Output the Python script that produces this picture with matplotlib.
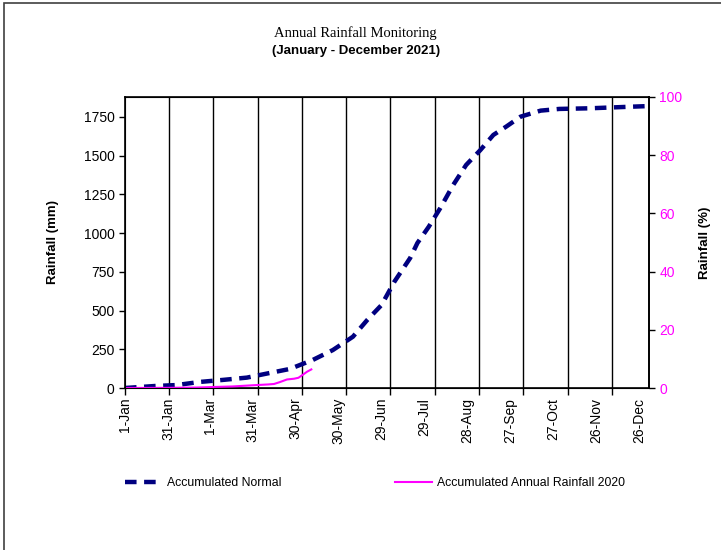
import matplotlib
matplotlib.use("Agg")
import matplotlib.pyplot as plt
from matplotlib.patches import Rectangle

# ---- data ----
label_days = [0, 30, 59, 89, 119, 149, 179, 209, 239, 269, 299, 329, 359]
tick_labels = ["1-Jan", "31-Jan", "1-Mar", "31-Mar", "30-Apr", "30-May", "29-Jun",
               "29-Jul", "28-Aug", "27-Sep", "27-Oct", "26-Nov", "26-Dec"]
# positions of the vertical gridlines / tick marks (in day units)
grid_days = [0, 30.7, 61.4, 92.8, 123.5, 154.2, 184.9, 216.3, 247.0, 277.7, 309.1, 339.8]

normal_days = [0, 21, 36, 52, 68, 85, 101, 115, 131, 145, 159, 169, 179, 188, 199,
               204, 212, 220, 229, 238, 248, 257, 266, 276, 290, 303, 324, 355, 364]
normal_mm = [0, 13, 19, 39, 52, 67, 97, 123, 181, 245, 331, 439, 536, 687, 840,
             936, 1042, 1162, 1311, 1440, 1537, 1634, 1688, 1752, 1791, 1802, 1806, 1817, 1820]

actual_days = [0, 30, 50, 60, 75, 90, 100, 104, 108, 113, 118, 121, 124, 127, 130]
actual_mm = [0, 1, 3, 6, 10, 18, 23, 26, 38, 55, 60, 66, 85, 105, 120]

left_ticks = [0, 250, 500, 750, 1000, 1250, 1500, 1750]
right_ticks = [0, 20, 40, 60, 80, 100]

NAVY = "#000080"
MAGENTA = "#FF00FF"
SANS = ["Liberation Sans", "DejaVu Sans"]

W, H = 721, 550
fig = plt.figure(figsize=(W / 100, H / 100), dpi=100)
fig.patch.set_facecolor("white")

# outer border
fig.patches.append(Rectangle((4 / W, -0.05), (W + 10) / W, 1.05 - 3 / H,
                             transform=fig.transFigure, fill=False,
                             edgecolor="#404040", lw=1.2, zorder=0))

ax = fig.add_axes([125 / W, (H - 388) / H, (649 - 125) / W, (388 - 97) / H])
ax.set_xlim(0, 365.6)
ax.set_ylim(0, 1879)
ax.xaxis.remove_overlapping_locs = False

# tick marks + gridlines (major, unlabeled)
ax.set_xticks(grid_days)
ax.set_xticklabels([])
ax.tick_params(axis="x", which="major", direction="out", length=5, width=1)
# labels (minor, no tick marks)
ax.set_xticks(label_days, minor=True)
ax.set_xticklabels(tick_labels, minor=True, rotation=90, fontsize=10, family=SANS)
ax.tick_params(axis="x", which="minor", length=0, pad=7)
for x in grid_days[1:]:
    ax.axvline(x, color="black", lw=1, zorder=1)

ax.set_yticks(left_ticks)
ax.set_yticklabels([str(v) for v in left_ticks], fontsize=10, family=SANS)
ax.tick_params(axis="y", direction="out", length=4, width=1, colors="black")
for s in ax.spines.values():
    s.set_linewidth(1.2)
    s.set_color("black")

ln1, = ax.plot(normal_days, normal_mm, color=NAVY, lw=3.2, dashes=(2.6, 1.7),
               zorder=3, label="Accumulated Normal")
ln2, = ax.plot(actual_days, actual_mm, color=MAGENTA, lw=1.5, zorder=4,
               label="Accumulated Annual Rainfall 2020")

ax.set_ylabel("Rainfall (mm)", fontsize=9.5, fontweight="bold", family=SANS,
              labelpad=18)

ax2 = ax.twinx()
ax2.set_ylim(0, 100)
ax2.set_yticks(right_ticks)
ax2.set_yticklabels([str(v) for v in right_ticks], fontsize=10, color=MAGENTA, family=SANS)
ax2.tick_params(axis="y", direction="out", length=4, width=1, colors="black",
                labelcolor=MAGENTA)
ax2.spines["right"].set_linewidth(1.2)
ax2.set_ylabel("Rainfall (%)", fontsize=9.5, fontweight="bold", family=SANS,
               labelpad=12)

fig.text(355 / W, 1 - 33 / H, "Annual Rainfall Monitoring", ha="center", va="center",
         fontsize=10.5, family=["Liberation Serif", "DejaVu Serif"])
fig.text(356 / W, 1 - 51 / H, "(January - December 2021)", ha="center", va="center",
         fontsize=9.5, fontweight="bold", family=SANS)

for ln, x0 in ((ln1, 114), (ln2, 384)):
    fig.legend(handles=[ln], loc="center left", bbox_to_anchor=(x0 / W, 1 - 483 / H),
               frameon=False, handlelength=3.0, handletextpad=0.4,
               prop={"family": SANS, "size": 8.8})

fig.savefig("out.png", dpi=100, facecolor="white")
